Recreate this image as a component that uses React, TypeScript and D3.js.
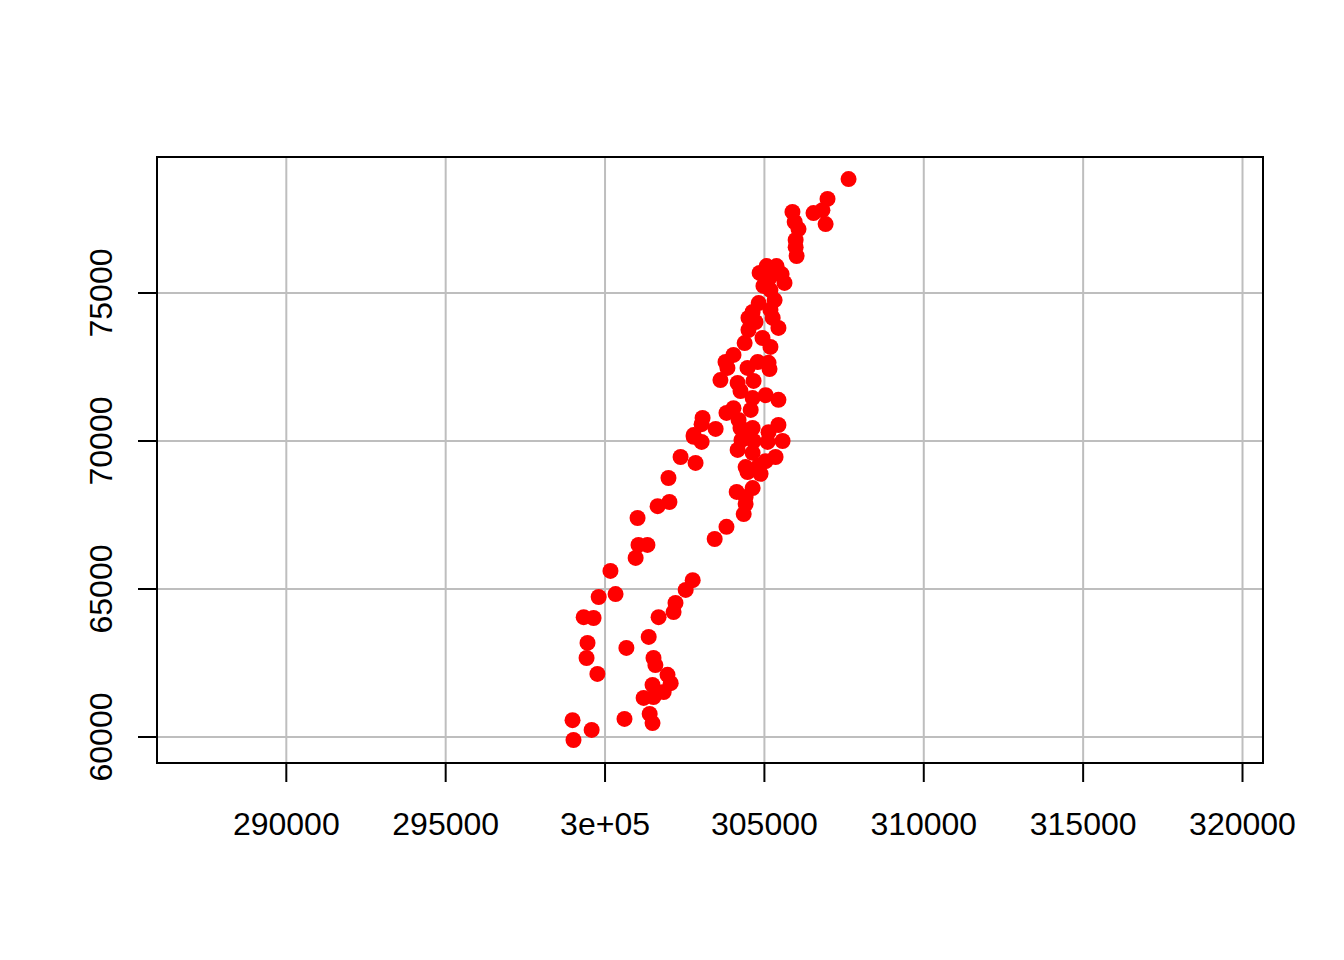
import React, { useEffect, useRef } from 'react';
import * as d3 from 'd3';

// easting / northing of each point
const xValues = [
  307640, 306980, 306820, 306540, 306920, 305880, 305950, 306070, 305980, 305980,
  306010, 305070, 305380, 304850, 305540, 305160, 304970, 305630, 305190, 304820,
  305320, 305190, 304630, 304500, 305260, 305440, 304500, 304940, 304380, 305190,
  304030, 303780, 304790, 305130, 304720, 303840, 304470, 303620, 304160, 304660,
  304250, 305040, 305440, 304030, 304570, 303810, 303060, 304190, 303470, 304250,
  304630, 305440, 305130, 302780, 305160, 304630, 303030, 302780, 304470, 304280,
  304660, 305100, 305570, 304160, 304630, 305350, 305040, 302840, 304410, 304820,
  304470, 304880, 304630, 304130, 304410, 304410, 304350, 303810, 302370, 301990,
  301650, 302020, 301020, 301050, 301330, 303440, 303030, 300960, 300170, 302750,
  302530, 299800, 300330, 302210, 302150, 299330, 299640, 301680, 301370, 299450,
  299420, 300670, 301520, 301580, 299760, 301960, 302060, 301840, 301490, 301210,
  301520, 298980, 300610, 301400, 301490, 299580, 299010,
];
const yValues = [
  78850, 78180, 77800, 77700, 77330, 77740, 77400, 77160, 76790, 76550,
  76250, 75910, 75910, 75680, 75640, 75510, 75240, 75340, 75100, 74660,
  74760, 74430, 74360, 74160, 74160, 73820, 73750, 73480, 73310, 73180,
  72910, 72670, 72670, 72640, 74020, 72470, 72470, 72060, 71960, 72030,
  71690, 71550, 71390, 71110, 71050, 70950, 70780, 70710, 70410, 70440,
  70440, 70540, 70300, 70200, 72430, 71450, 70570, 70140, 70300, 70030,
  70000, 69970, 70000, 69700, 69600, 69460, 69320, 69260, 69120, 69160,
  68950, 68890, 68410, 68280, 68110, 67870, 67530, 67100, 69460, 68750,
  67800, 67940, 67400, 66490, 66490, 66690, 69970, 66050, 65610, 65300,
  64970, 64730, 64830, 64530, 64220, 64050, 64020, 64050, 63380, 63180,
  62670, 63010, 62670, 62430, 62130, 62100, 61820, 61520, 61760, 61320,
  61350, 60570, 60610, 60780, 60470, 60240, 59900,
];

const xTicks = [290000, 295000, 300000, 305000, 310000, 315000, 320000];
const xTickLabels = ['290000', '295000', '3e+05', '305000', '310000', '315000', '320000'];
const yTicks = [60000, 65000, 70000, 75000];
const yTickLabels = ['60000', '65000', '70000', '75000'];

const xLimits = [285943, 320643];
const yLimits = [59122, 79595];

function ScatterPlot() {
  const ref = useRef<SVGSVGElement>(null);

  function drawChart() {
    const width = 1344, height = 960;
    const margin = { top: 157, right: 81, bottom: 197, left: 157 };
    const font = '"Liberation Sans", Arial, sans-serif';

    const svg = d3.select(ref.current);
    svg.selectAll('*').remove();

    const x = d3.scaleLinear()
      .domain(xLimits)
      .range([margin.left, width - margin.right]);
    const y = d3.scaleLinear()
      .domain(yLimits)
      .range([height - margin.bottom, margin.top]);

    const top = margin.top, bottom = height - margin.bottom;
    const left = margin.left, right = width - margin.right;

    // grid
    svg.append('g')
      .selectAll('line')
      .data(xTicks)
      .join('line')
      .attr('x1', d => x(d)).attr('x2', d => x(d))
      .attr('y1', top).attr('y2', bottom)
      .attr('stroke', '#bebebe').attr('stroke-width', 2);
    svg.append('g')
      .selectAll('line')
      .data(yTicks)
      .join('line')
      .attr('x1', left).attr('x2', right)
      .attr('y1', d => y(d)).attr('y2', d => y(d))
      .attr('stroke', '#bebebe').attr('stroke-width', 2);

    // points
    const pts = xValues.map((v, i) => ({ x: v, y: yValues[i] }));
    svg.append('g')
      .selectAll('circle')
      .data(pts)
      .join('circle')
      .attr('cx', d => x(d.x))
      .attr('cy', d => y(d.y))
      .attr('r', 8)
      .attr('fill', '#ff0000');

    // box
    svg.append('rect')
      .attr('x', left).attr('y', top)
      .attr('width', right - left).attr('height', bottom - top)
      .attr('fill', 'none').attr('stroke', '#000').attr('stroke-width', 2);

    // x axis
    const xa = svg.append('g');
    xa.selectAll('line')
      .data(xTicks)
      .join('line')
      .attr('x1', d => x(d)).attr('x2', d => x(d))
      .attr('y1', bottom).attr('y2', bottom + 19)
      .attr('stroke', '#000').attr('stroke-width', 2);
    xa.selectAll('text')
      .data(xTicks)
      .join('text')
      .attr('x', d => x(d))
      .attr('y', 835)
      .attr('text-anchor', 'middle')
      .attr('font-family', font)
      .attr('font-size', 32)
      .text((d, i) => xTickLabels[i]);

    // y axis
    const ya = svg.append('g');
    ya.selectAll('line')
      .data(yTicks)
      .join('line')
      .attr('x1', left - 19).attr('x2', left)
      .attr('y1', d => y(d)).attr('y2', d => y(d))
      .attr('stroke', '#000').attr('stroke-width', 2);
    ya.selectAll('text')
      .data(yTicks)
      .join('text')
      .attr('transform', d => `translate(112, ${y(d)}) rotate(-90)`)
      .attr('text-anchor', 'middle')
      .attr('font-family', font)
      .attr('font-size', 32)
      .text((d, i) => yTickLabels[i]);
  }

  useEffect(() => {
    drawChart();
  }, []);

  return (
    <svg
      ref={ref}
      width={1344}
      height={960}
      style={{ position: 'absolute', left: 0, top: 0, background: '#fff' }}
    />
  );
}

export default function App() {
  return <ScatterPlot />;
}
